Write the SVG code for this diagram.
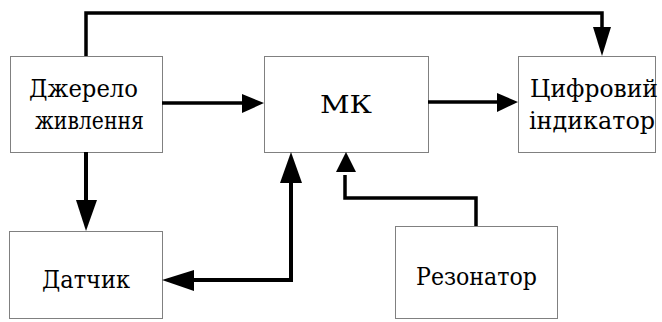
<svg xmlns="http://www.w3.org/2000/svg" width="662" height="322" viewBox="0 0 662 322">
<defs>
<style>
.box{fill:#fff;stroke:#808080;stroke-width:1}
.t{font-family:"DejaVu Serif","Liberation Serif",serif;font-size:24px;fill:#000;text-anchor:middle}
.c{fill:none;stroke:#000;stroke-width:3.5}
.ah{fill:#000}
</style>
</defs>
<rect width="662" height="322" fill="#fff"/>
<g id="n-dzherelo"><rect class="box" x="10.5" y="56.5" width="152" height="96"/><text class="t" x="83.5" y="97" textLength="109" lengthAdjust="spacingAndGlyphs">Джерело</text><text class="t" x="89.5" y="129" textLength="109" lengthAdjust="spacingAndGlyphs">живлення</text></g>
<g id="n-mk"><rect class="box" x="264.5" y="56.5" width="164" height="96"/><text class="t" x="346" y="113" textLength="52" lengthAdjust="spacingAndGlyphs">МК</text></g>
<g id="n-indicator"><rect class="box" x="518.5" y="56.5" width="137" height="96"/><text class="t" x="594" y="97" textLength="128" lengthAdjust="spacingAndGlyphs">Цифровий</text><text class="t" x="592" y="129" textLength="126" lengthAdjust="spacingAndGlyphs">індикатор</text></g>
<g id="n-datchyk"><rect class="box" x="9.5" y="231.5" width="153" height="87"/><text class="t" x="86" y="288" textLength="88" lengthAdjust="spacingAndGlyphs">Датчик</text></g>
<g id="n-rezonator"><rect class="box" x="395.5" y="226.5" width="162" height="92"/><text class="t" x="476.5" y="285" textLength="121" lengthAdjust="spacingAndGlyphs">Резонатор</text></g>
<g id="connectors">
<path class="c" d="M86 56 V13 H602 V30"/><polygon class="ah" points="593,27 611,27 602,56"/>
<path class="c" d="M162 103 H245"/><polygon class="ah" points="242,94 242,113 264,103"/>
<path class="c" d="M428 102 H500"/><polygon class="ah" points="497,93 497,112 518,102"/>
<path class="c" style="stroke-width:4" d="M86 152 V203"/><polygon class="ah" points="76,200 97,200 86,231"/>
<path class="c" style="stroke-width:4" d="M190 280 H291 V180"/><polygon class="ah" points="194,270 194,291 162,280"/><polygon class="ah" points="280,183 302,183 291,152"/>
<path class="c" d="M476 226 V198 H345 V175"/><polygon class="ah" points="336,172 356,172 346,152"/>
</g>
</svg>
